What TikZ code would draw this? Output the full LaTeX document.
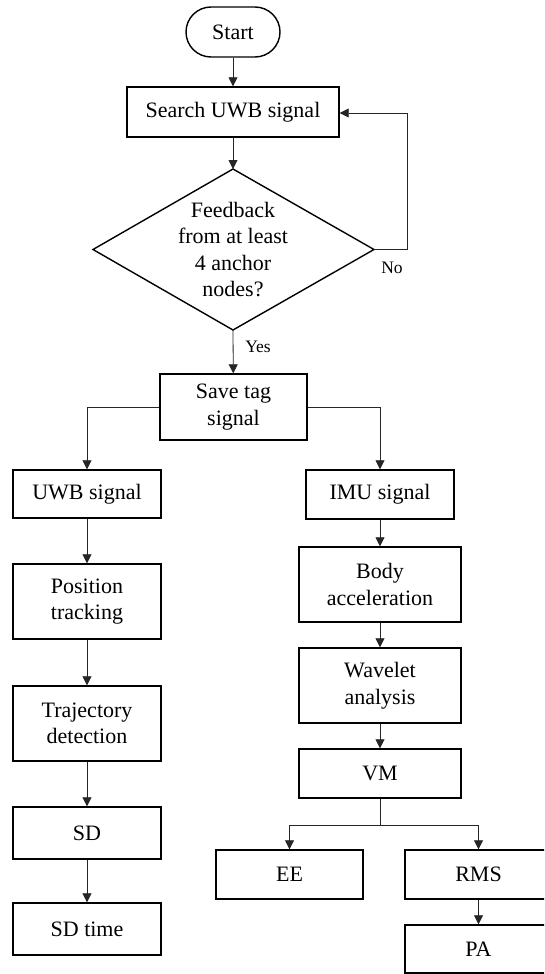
\documentclass[tikz,border=0pt]{standalone}
\usepackage{fontspec}
\setmainfont{Liberation Serif}
\usetikzlibrary{shapes.geometric,arrows.meta}
\begin{document}
\begin{tikzpicture}[x=1pt,y=-1pt,
  box/.style={draw=black,line width=1.4pt,rectangle,inner sep=0pt,align=center,
    font=\fontsize{22}{26.5}\selectfont},
  term/.style={box,rounded corners=25pt},
  dec/.style={draw=black,line width=1.4pt,diamond,inner sep=0pt,align=center,
    font=\fontsize{22}{26.5}\selectfont},
  conn/.style={draw=black!85,line width=0.8pt,-{Triangle[width=9pt,length=9pt]}},
  lbl/.style={font=\fontsize{17.5}{20}\selectfont}]
\useasboundingbox (0,0) rectangle (544,974);
\clip (0,0) rectangle (544,974);
\fill[white] (0,0) rectangle (544,974);
\node[term,minimum width=94pt,minimum height=50pt] (start) at (233,32) {Start};
\node[box,minimum width=212pt,minimum height=50pt] (search) at (233,112) {Search UWB signal};
\draw[line width=1.4pt] (93,249.5) coordinate (dw) -- (233,169) coordinate (dn) -- (374,249.5) coordinate (de) -- (233,330) coordinate (ds) -- cycle;
\node[align=center,font=\fontsize{22}{26.5}\selectfont] (dec) at (233,249.5) {Feedback\\from at least\\4 anchor\\nodes?};
\node[box,minimum width=147pt,minimum height=66pt] (save) at (233.5,407) {Save tag\\signal};
\node[box,minimum width=148pt,minimum height=48pt] (uwb) at (87,494) {UWB signal};
\node[box,minimum width=148pt,minimum height=75pt] (pos) at (87,601.5) {Position\\tracking};
\node[box,minimum width=148pt,minimum height=75pt] (traj) at (87,723.5) {Trajectory\\detection};
\node[box,minimum width=148pt,minimum height=52pt] (sd) at (87,833) {SD};
\node[box,minimum width=148pt,minimum height=52pt] (sdt) at (87,929) {SD time};
\node[box,minimum width=148pt,minimum height=49pt] (imu) at (380,494.5) {IMU signal};
\node[box,minimum width=162pt,minimum height=75pt] (body) at (380,584.5) {Body\\acceleration};
\node[box,minimum width=162pt,minimum height=75pt] (wav) at (380,685.5) {Wavelet\\analysis};
\node[box,minimum width=162pt,minimum height=49pt] (vm) at (380,773.5) {VM};
\node[box,minimum width=147pt,minimum height=49pt] (ee) at (289.5,874.5) {EE};
\node[box,minimum width=147pt,minimum height=49pt] (rms) at (478.5,874.5) {RMS};
\node[box,minimum width=147pt,minimum height=48pt] (pa) at (478.5,949) {PA};
\coordinate (loop) at (407,113);
\coordinate (split) at (380,825);
\draw[conn] (start) -- (search);
\draw[conn] (search) -- (dn);
\draw[conn] (de) -| (loop) -- (search.east |- loop);
\node[lbl] (no) at (392,268) {No};
\draw[conn] (ds) -- (save);
\node[lbl] (yes) at (258,347) {Yes};
\draw[conn] (save.west) -| (uwb.north);
\draw[conn] (save.east) -| (imu.north);
\draw[conn] (uwb) -- (pos);
\draw[conn] (pos) -- (traj);
\draw[conn] (traj) -- (sd);
\draw[conn] (sd) -- (sdt);
\draw[conn] (imu) -- (body);
\draw[conn] (body) -- (wav);
\draw[conn] (wav) -- (vm);
\draw[draw=black!85,line width=0.8pt] (vm.south) -- (split);
\draw[conn] (split) -| (ee.north);
\draw[conn] (split) -| (rms.north);
\draw[conn] (rms) -- (pa);
\end{tikzpicture}
\end{document}
